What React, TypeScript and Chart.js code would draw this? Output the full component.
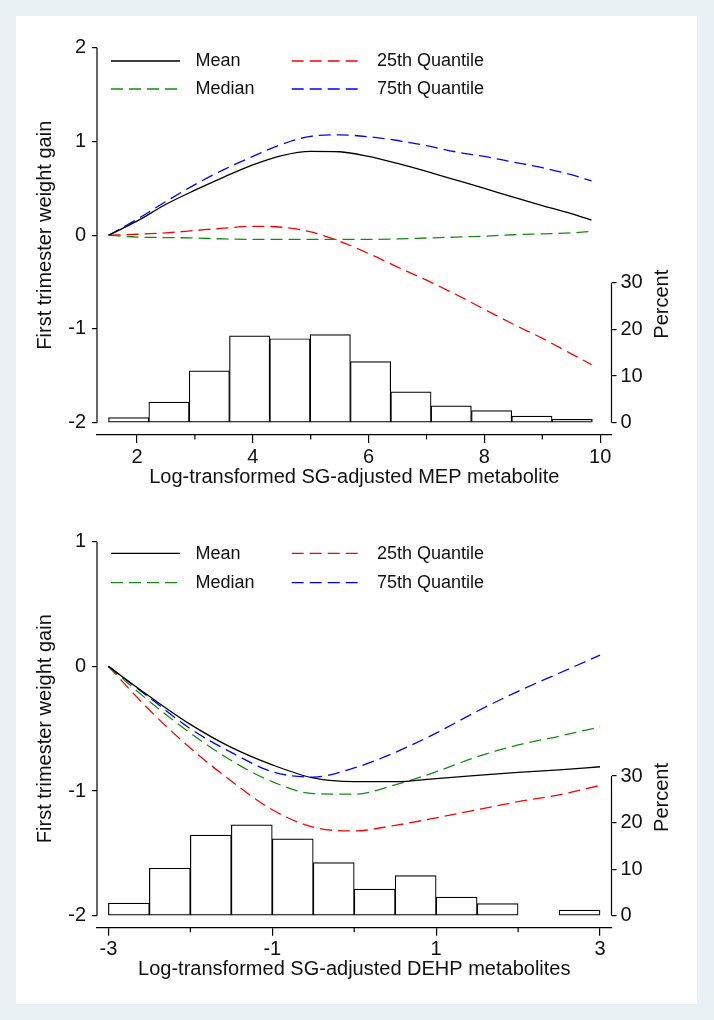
import React, { useEffect, useRef } from 'react';
import { Chart, registerables } from 'chart.js';
Chart.register(...registerables);

const FONT = "'Liberation Sans', Arial, Helvetica, sans-serif";
const TEXT = '#111111';

const seriesLabels = ['Mean', 'Median', '25th Quantile', '75th Quantile'];
const seriesColors = ['#000000', '#138c13', '#ff0000', '#0000ff'];
const yTitle = 'First trimester weight gain';
const pctTitle = 'Percent';

// ---------- Panel 1: MEP ----------
const mepX = [1.51, 2.0, 2.5, 3.0, 3.5, 4.0, 4.5, 5.0, 5.5, 6.0, 6.5, 7.0, 7.5, 8.0, 8.5, 9.0, 9.5, 9.85];
const mepMean = [0, 0.15, 0.33, 0.48, 0.62, 0.75, 0.85, 0.895, 0.89, 0.84, 0.765, 0.68, 0.59, 0.5, 0.405, 0.315, 0.23, 0.16];
const mepMedian = [0, -0.02, -0.025, -0.03, -0.04, -0.045, -0.045, -0.045, -0.045, -0.045, -0.04, -0.03, -0.02, -0.01, 0.005, 0.015, 0.025, 0.04];
const mepQ25 = [0, 0.01, 0.025, 0.05, 0.075, 0.095, 0.085, 0.035, -0.065, -0.195, -0.34, -0.48, -0.63, -0.79, -0.95, -1.1, -1.265, -1.38];
const mepQ75 = [0, 0.17, 0.36, 0.54, 0.7, 0.84, 0.97, 1.055, 1.07, 1.05, 1.01, 0.955, 0.89, 0.84, 0.78, 0.72, 0.645, 0.58];
const mepBinCenters = [1.856, 2.552, 3.249, 3.945, 4.641, 5.338, 6.034, 6.731, 7.427, 8.124, 8.82, 9.516];
const mepBinPercent = [1.1, 4.4, 11.1, 18.6, 18.0, 18.9, 13.1, 6.6, 3.6, 2.6, 1.4, 0.7];
const mepXTicks = [2, 3, 4, 5, 6, 7, 8, 9, 10];
const mepXLabels = ['2', '', '4', '', '6', '', '8', '', '10'];
const mepYTicks = [-2, -1, 0, 1, 2];
const mepYLabels = ['-2', '-1', '0', '1', '2'];
const mepXTitle = 'Log-transformed SG-adjusted MEP metabolite';

// ---------- Panel 2: DEHP ----------
const dehpX = [-3, -2.5, -2, -1.5, -1, -0.5, 0, 0.5, 1, 1.5, 2, 2.5, 3];
const dehpMean = [0, -0.24, -0.465, -0.65, -0.79, -0.895, -0.925, -0.925, -0.9, -0.875, -0.85, -0.83, -0.805];
const dehpMedian = [0, -0.28, -0.535, -0.755, -0.925, -1.02, -1.025, -0.95, -0.845, -0.725, -0.63, -0.56, -0.485];
const dehpQ25 = [0, -0.35, -0.655, -0.92, -1.15, -1.29, -1.32, -1.275, -1.215, -1.15, -1.085, -1.03, -0.955];
const dehpQ75 = [0, -0.25, -0.5, -0.69, -0.845, -0.888, -0.815, -0.69, -0.535, -0.36, -0.2, -0.055, 0.09];
const dehpBinCenters = [-2.75, -2.25, -1.75, -1.25, -0.75, -0.25, 0.25, 0.75, 1.25, 1.75, 2.25, 2.75];
const dehpBinPercent = [2.7, 10.2, 17.3, 19.5, 16.5, 11.4, 5.7, 8.6, 4.0, 2.6, null, 1.2];
const dehpXTicks = [-3, -2, -1, 0, 1, 2, 3];
const dehpXLabels = ['-3', '', '-1', '', '1', '', '3'];
const dehpYTicks = [-2, -1, 0, 1];
const dehpYLabels = ['-2', '-1', '0', '1'];
const dehpXTitle = 'Log-transformed SG-adjusted DEHP metabolites';

const pctTicks = [0, 10, 20, 30];
const pctLabels = ['0', '10', '20', '30'];

type Panel = {
  x: number[];
  series: number[][];
  binCenters: number[];
  binPercent: (number | null)[];
  xTicks: number[];
  xLabels: string[];
  yTicks: number[];
  yLabels: string[];
  xTitle: string;
  xMin: number;
  xMax: number;
  yMin: number;
  yMax: number;
  pctPerUnit: number;
  padTop: number;
  padBottom: number;
  legendRows: number[];
};

const mepPanel: Panel = {
  x: mepX,
  series: [mepMean, mepMedian, mepQ25, mepQ75],
  binCenters: mepBinCenters,
  binPercent: mepBinPercent,
  xTicks: mepXTicks,
  xLabels: mepXLabels,
  yTicks: mepYTicks,
  yLabels: mepYLabels,
  xTitle: mepXTitle,
  xMin: 1.309,
  xMax: 10.195,
  yMin: -2.131,
  yMax: 2,
  pctPerUnit: 20.09,
  padTop: 31.7,
  padBottom: 19,
  legendRows: [45, 73],
};

const dehpPanel: Panel = {
  x: dehpX,
  series: [dehpMean, dehpMedian, dehpQ25, dehpQ75],
  binCenters: dehpBinCenters,
  binPercent: dehpBinPercent,
  xTicks: dehpXTicks,
  xLabels: dehpXLabels,
  yTicks: dehpYTicks,
  yLabels: dehpYLabels,
  xTitle: dehpXTitle,
  xMin: -3.139,
  xMax: 3.14,
  yMin: -2.096,
  yMax: 1,
  pctPerUnit: 26.77,
  padTop: 35.7,
  padBottom: 16.3,
  legendRows: [47.3, 76.7],
};

const DASH = [12, 6];
const seriesDash = [[], DASH, DASH, DASH];
// legend grid: [seriesIndex, col, row]
const legendLayout = [
  [0, 0, 0],
  [2, 1, 0],
  [1, 0, 1],
  [3, 1, 1],
];
const legendCols = [
  { x0: 95, x1: 164, tx: 179.5 },
  { x0: 275.7, x1: 345.7, tx: 361 },
];

function buildChart(canvas: HTMLCanvasElement, p: Panel) {
  const base = p.yTicks[0];
  const y2min = (p.yMin - base) * p.pctPerUnit;
  const y2max = (p.yMax - base) * p.pctPerUnit;

  const lineSets: any[] = seriesLabels.map((label, s) => ({
    type: 'line',
    label,
    data: p.x.map((x, i) => ({ x, y: p.series[s][i] })),
    borderColor: seriesColors[s],
    backgroundColor: seriesColors[s],
    borderWidth: 1.3,
    borderDash: seriesDash[s],
    pointRadius: 0,
    cubicInterpolationMode: 'monotone',
    fill: false,
    yAxisID: 'y',
    xAxisID: 'x',
    order: s + 1,
  }));

  const barSet: any = {
    type: 'bar',
    label: 'Percent',
    data: p.binCenters.map((x, i) => ({ x, y: p.binPercent[i] })),
    backgroundColor: '#ffffff',
    borderColor: '#000000',
    borderWidth: 1.2,
    borderSkipped: false,
    barPercentage: 1,
    categoryPercentage: 1,
    yAxisID: 'y2',
    xAxisID: 'x',
    order: 20,
  };

  const decor = {
    id: 'decor',
    afterDraw(chart: any) {
      const { ctx, chartArea, scales } = chart;
      const sx = scales.x, sy = scales.y, sy2 = scales.y2;
      ctx.save();
      ctx.strokeStyle = '#000';
      ctx.lineWidth = 1.2;
      ctx.setLineDash([]);
      // left axis line over tick range
      ctx.beginPath();
      ctx.moveTo(chartArea.left, sy.getPixelForValue(p.yTicks[p.yTicks.length - 1]));
      ctx.lineTo(chartArea.left, sy.getPixelForValue(p.yTicks[0]));
      ctx.stroke();
      // right percent axis line
      ctx.beginPath();
      ctx.moveTo(chartArea.right, sy2.getPixelForValue(pctTicks[0]));
      ctx.lineTo(chartArea.right, sy2.getPixelForValue(pctTicks[pctTicks.length - 1]));
      ctx.stroke();
      // minor x ticks
      p.xTicks.forEach((v, i) => {
        if (p.xLabels[i] !== '') return;
        const px = sx.getPixelForValue(v);
        ctx.beginPath();
        ctx.moveTo(px, chartArea.bottom);
        ctx.lineTo(px, chartArea.bottom + 4.5);
        ctx.stroke();
      });
      // legend
      ctx.font = `18px ${FONT}`;
      ctx.textBaseline = 'middle';
      ctx.textAlign = 'left';
      legendLayout.forEach(([s, col, row]) => {
        const c = legendCols[col];
        const y = p.legendRows[row];
        ctx.strokeStyle = seriesColors[s];
        ctx.lineWidth = 1.3;
        ctx.setLineDash(seriesDash[s]);
        ctx.beginPath();
        ctx.moveTo(c.x0, y);
        ctx.lineTo(c.x1, y);
        ctx.stroke();
        ctx.setLineDash([]);
        ctx.fillStyle = TEXT;
        ctx.fillText(seriesLabels[s], c.tx, y + 0.5);
      });
      // axis titles
      ctx.font = `20px ${FONT}`;
      ctx.fillStyle = TEXT;
      ctx.textAlign = 'center';
      ctx.textBaseline = 'middle';
      const yc = (sy.getPixelForValue(p.yTicks[0]) + sy.getPixelForValue(p.yTicks[p.yTicks.length - 1])) / 2;
      ctx.save();
      ctx.translate(29.5, yc);
      ctx.rotate(-Math.PI / 2);
      ctx.fillText(yTitle, 0, 0);
      ctx.restore();
      ctx.save();
      ctx.translate(646.5, sy2.getPixelForValue(25.4));
      ctx.rotate(-Math.PI / 2);
      ctx.fillText(pctTitle, 0, 0);
      ctx.restore();
      ctx.restore();
    },
  };

  return new Chart(canvas, {
    type: 'line',
    data: { datasets: [...lineSets, barSet] },
    plugins: [decor],
    options: {
      animation: false,
      responsive: false,
      devicePixelRatio: 1,
      layout: { padding: { top: p.padTop, bottom: p.padBottom, left: 0, right: 0 } },
      plugins: { legend: { display: false }, tooltip: { enabled: false }, title: { display: false } },
      scales: {
        x: {
          type: 'linear',
          min: p.xMin,
          max: p.xMax,
          offset: false,
          afterBuildTicks: (s: any) => {
            s.ticks = p.xTicks.map((v) => ({ value: v }));
          },
          afterFit: (s: any) => {
            s.height = 52;
          },
          ticks: {
            autoSkip: false,
            maxRotation: 0,
            padding: 4,
            color: TEXT,
            font: { family: FONT, size: 20, lineHeight: 1 },
            callback: (_v: any, i: number) => p.xLabels[i],
          },
          grid: {
            offset: false,
            drawOnChartArea: false,
            drawTicks: true,
            tickLength: 8,
            lineWidth: 1.2,
            color: (c: any) => (p.xLabels[c.index] ? '#000' : 'rgba(0,0,0,0)'),
          },
          border: { display: true, color: '#000', width: 1.2 },
          title: {
            display: true,
            text: p.xTitle,
            color: TEXT,
            font: { family: FONT, size: 20, lineHeight: 1 },
            padding: { top: 0, bottom: 0 },
          },
        },
        y: {
          type: 'linear',
          position: 'left',
          min: p.yMin,
          max: p.yMax,
          afterBuildTicks: (s: any) => {
            s.ticks = p.yTicks.map((v) => ({ value: v }));
          },
          afterFit: (s: any) => {
            s.width = 81;
          },
          ticks: {
            autoSkip: false,
            padding: 6,
            color: TEXT,
            font: { family: FONT, size: 20, lineHeight: 1 },
            callback: (_v: any, i: number) => p.yLabels[i],
          },
          grid: { drawOnChartArea: false, drawTicks: true, tickLength: 5, lineWidth: 1.2, color: '#000' },
          border: { display: false },
        },
        y2: {
          type: 'linear',
          position: 'right',
          min: y2min,
          max: y2max,
          afterBuildTicks: (s: any) => {
            s.ticks = pctTicks.map((v) => ({ value: v }));
          },
          afterFit: (s: any) => {
            s.width = 85.5;
          },
          ticks: {
            autoSkip: false,
            padding: 4,
            color: TEXT,
            font: { family: FONT, size: 20, lineHeight: 1 },
            callback: (_v: any, i: number) => pctLabels[i],
          },
          grid: { drawOnChartArea: false, drawTicks: true, tickLength: 5, lineWidth: 1.2, color: '#000' },
          border: { display: false },
        },
      },
    } as any,
  });
}

function PanelChart({ panel }: { panel: Panel }) {
  const ref = useRef<HTMLCanvasElement>(null);
  useEffect(() => {
    if (!ref.current) return;
    const chart = buildChart(ref.current, panel);
    return () => chart.destroy();
  }, [panel]);
  return <canvas ref={ref} width={681} height={490} style={{ display: 'block', width: 681, height: 490 }} />;
}

export default function App() {
  return (
    <div style={{ position: 'fixed', inset: 0, background: '#e9f1f4' }}>
      <div style={{ position: 'absolute', left: 16, top: 16, width: 681, height: 988, background: '#ffffff' }}>
        <div style={{ position: 'absolute', left: 0, top: 0 }}>
          <PanelChart panel={mepPanel} />
        </div>
        <div style={{ position: 'absolute', left: 0, top: 490 }}>
          <PanelChart panel={dehpPanel} />
        </div>
      </div>
    </div>
  );
}
